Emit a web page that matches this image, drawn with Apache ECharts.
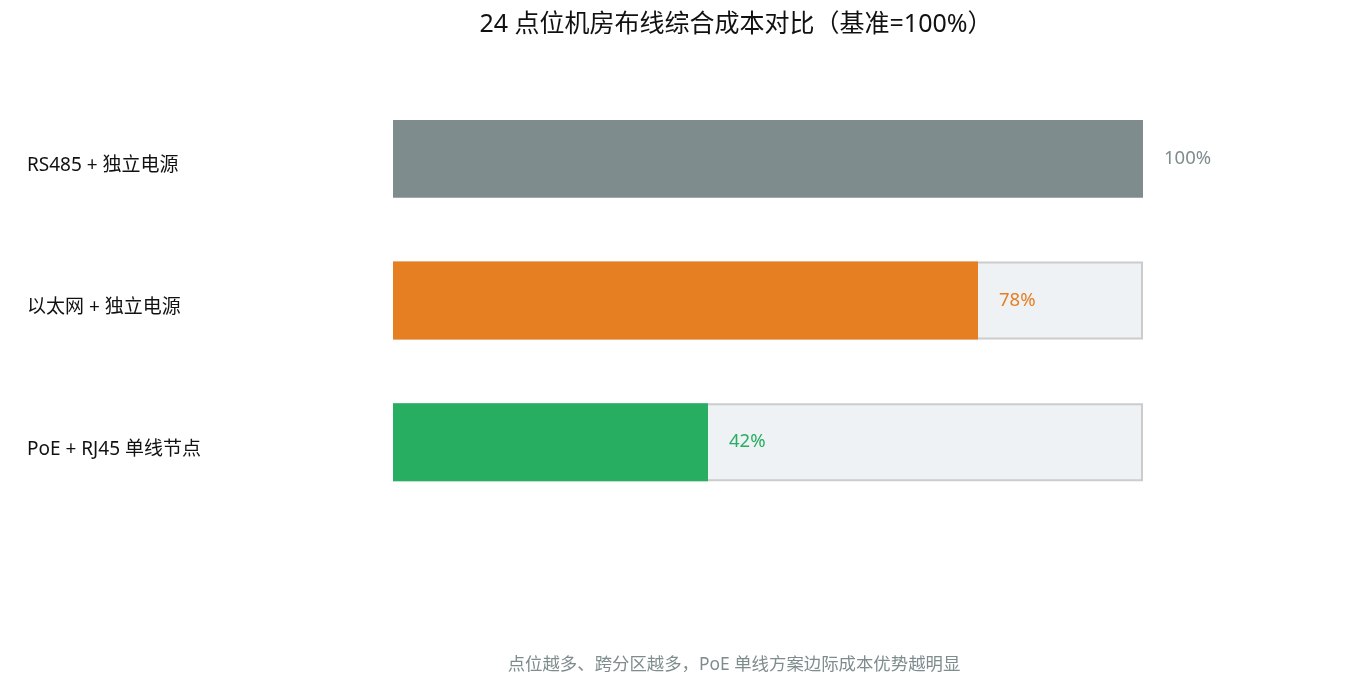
<!DOCTYPE html>
<html>
<head>
<meta charset="utf-8">
<script src="https://cdn.jsdelivr.net/npm/echarts@6/dist/echarts.min.js"></script>
<style>
  html, body { margin: 0; padding: 0; background: #fff; }
  #chart { width: 1348px; height: 690px; }
</style>
</head>
<body>
<div id="chart"></div>
<script>
// 方案名称
const categories = ['RS485 + 独立电源', '以太网 + 独立电源', 'PoE + RJ45 单线节点'];
// 相对成本（基准=100%）
const costValues = [100, 78, 42];
const barColors = ['#7f8c8d', '#e67e22', '#27ae60'];
const baseValue = 100;

const chart = echarts.init(document.getElementById('chart'));
const fontFamily = '"Noto Sans", "Noto Sans CJK SC", sans-serif';

// 背景条：只画没有达到基准的行
const backData = costValues.map(v => (v < baseValue ? baseValue : '-'));

const option = {
  animation: false,
  textStyle: { fontFamily: fontFamily },
  title: {
    text: '24 点位机房布线综合成本对比（基准=100%）',
    left: 731,
    textAlign: 'center',
    top: 7,
    textStyle: { fontSize: 25, fontWeight: 'normal', color: '#111', fontFamily: fontFamily }
  },
  graphic: [{
    type: 'text',
    x: 734,
    y: 656,
    style: {
      text: '点位越多、跨分区越多，PoE 单线方案边际成本优势越明显',
      fill: '#7f8c8d',
      fontSize: 17.4,
      textAlign: 'center',
      fontFamily: fontFamily
    }
  }],
  grid: { left: 393, width: 750, top: 88, height: 425 },
  xAxis: {
    type: 'value',
    min: 0,
    max: baseValue,
    show: false
  },
  yAxis: {
    type: 'category',
    data: categories,
    inverse: true,
    axisLine: { show: false },
    axisTick: { show: false },
    splitLine: { show: false },
    axisLabel: {
      align: 'left',
      margin: 366,
      formatter: '{a|{value}}',
      rich: {
        a: { fontSize: 19, color: '#111', padding: [14, 0, 0, 0], fontFamily: fontFamily }
      }
    }
  },
  series: [
    {
      name: 'base',
      type: 'bar',
      data: backData,
      barWidth: '55%',
      barGap: '-100%',
      silent: true,
      itemStyle: { color: '#eef2f5', borderColor: '#cccccc', borderWidth: 2 },
      z: 1
    },
    {
      name: 'cost',
      type: 'bar',
      barWidth: '55%',
      barGap: '-100%',
      data: costValues.map((v, i) => ({
        value: v,
        itemStyle: { color: barColors[i] },
        label: { color: barColors[i] }
      })),
      label: {
        show: true,
        position: 'right',
        distance: 21,
        fontSize: 18.5,
        formatter: '{c}%'
      },
      z: 2
    }
  ]
};

chart.setOption(option);
window.addEventListener('resize', () => chart.resize());
</script>
</body>
</html>
